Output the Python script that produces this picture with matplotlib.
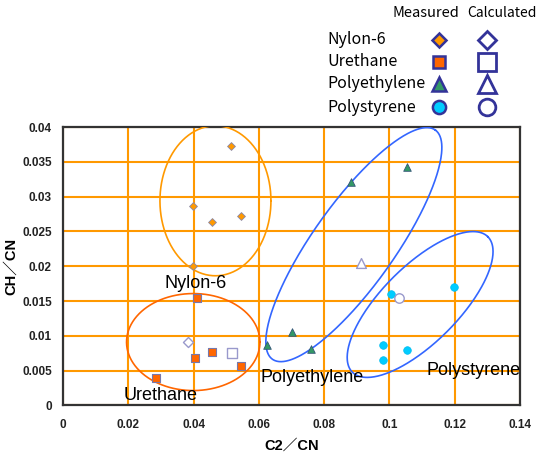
import numpy as np
import matplotlib
matplotlib.use("Agg")
import matplotlib.pyplot as plt
from matplotlib.lines import Line2D

# ---- data ----
nylon_x = [0.0514, 0.0399, 0.0455, 0.0545, 0.0399]
nylon_y = [0.0373, 0.0287, 0.0264, 0.0272, 0.0201]
ureth_x = [0.0410, 0.0403, 0.0455, 0.0546, 0.0284]
ureth_y = [0.0154, 0.0068, 0.0077, 0.0057, 0.0040]
pe_x = [0.1053, 0.0882, 0.0703, 0.0626, 0.0761]
pe_y = [0.0343, 0.0321, 0.0105, 0.0087, 0.0081]
ps_x = [0.1004, 0.1198, 0.0981, 0.0981, 0.1053]
ps_y = [0.0160, 0.0170, 0.0087, 0.0065, 0.0079]
calc_nylon = (0.0382, 0.0091)
calc_ureth = (0.0517, 0.0075)
calc_pe = (0.0912, 0.0204)
calc_ps = (0.1028, 0.0154)

# ellipses: center (data), semi-axes in pixels, rotation in degrees
ellipses = [
    ((0.0467, 0.0294), 55.5, 75.0, 0.0, "#FF9900"),
    ((0.0399, 0.0091), 66.7, 48.5, 0.0, "#FF6600"),
    ((0.0891, 0.0231), 140.6, 40.9, 54.6, "#3366FF"),
    ((0.1094, 0.0145), 95.8, 38.2, 45.0, "#3366FF"),
]

xticks = [0, 0.02, 0.04, 0.06, 0.08, 0.1, 0.12, 0.14]
yticks = [0, 0.005, 0.01, 0.015, 0.02, 0.025, 0.03, 0.035, 0.04]

fam = ["Liberation Sans", "Noto Sans CJK JP", "DejaVu Sans"]
plt.rcParams["font.family"] = fam

fig = plt.figure(figsize=(5.4, 4.54), dpi=100)
ax = fig.add_axes([63/540, 1-405.4/454, (520-63)/540, (405.4-127)/454])
ax.set_xlim(0, 0.14)
ax.set_ylim(0, 0.04)
ax.set_xticks(xticks)
ax.set_yticks(yticks)
ax.set_xticklabels([f"{v:g}" for v in xticks], fontsize=8.5, fontweight="bold", color="#222222")
ax.set_yticklabels([f"{v:g}" for v in yticks], fontsize=8.5, fontweight="bold", color="#222222")
ax.tick_params(axis="x", length=0, pad=10)
ax.tick_params(axis="y", length=0, pad=8)
ax.grid(True, color="#FF9900", linewidth=1.5)
ax.set_axisbelow(True)
for s in ax.spines.values():
    s.set_color("#333333")
    s.set_linewidth(1.6)
ax.set_xlabel("C2／CN", fontsize=10.5, fontweight="bold", labelpad=5)
ax.set_ylabel("CH／CN", fontsize=10.5, fontweight="bold", labelpad=3)

# ellipses
t = np.linspace(0, 2*np.pi, 400)
for (c, a, b, ang, col) in ellipses:
    cx, cy = ax.transData.transform(c)
    th = np.deg2rad(ang)
    ex = a*np.cos(t)
    ey = b*np.sin(t)
    dx = cx + ex*np.cos(th) - ey*np.sin(th)
    dy = cy + ex*np.sin(th) + ey*np.cos(th)
    pts = ax.transData.inverted().transform(np.column_stack([dx, dy]))
    ax.plot(pts[:, 0], pts[:, 1], color=col, linewidth=1.2, zorder=3)

# measured points
ax.scatter(nylon_x, nylon_y, marker="D", s=16, c="#FF9900", edgecolors="#8888AA", linewidths=0.6, zorder=5)
ax.scatter(ureth_x, ureth_y, marker="s", s=36, c="#FF6600", edgecolors="#7777AA", linewidths=0.8, zorder=5)
ax.scatter(pe_x, pe_y, marker="^", s=30, c="#339966", edgecolors="#335577", linewidths=0.6, zorder=5)
ax.scatter(ps_x, ps_y, marker="o", s=30, c="#00CCFF", edgecolors="#00BBEE", linewidths=0.5, zorder=5)
# calculated points
calc_col = "#9999CC"
ax.scatter([calc_nylon[0]], [calc_nylon[1]], marker="D", s=26, facecolors="white", edgecolors=calc_col, linewidths=1.0, zorder=5)
ax.scatter([calc_ureth[0]], [calc_ureth[1]], marker="s", s=52, facecolors="white", edgecolors=calc_col, linewidths=1.0, zorder=5)
ax.scatter([calc_pe[0]], [calc_pe[1]], marker="^", s=50, facecolors="white", edgecolors=calc_col, linewidths=1.0, zorder=5)
ax.scatter([calc_ps[0]], [calc_ps[1]], marker="o", s=46, facecolors="white", edgecolors=calc_col, linewidths=1.0, zorder=5)

# group labels
ax.text(0.0405, 0.0175, "Nylon-6", fontsize=13, ha="center", va="center", zorder=6)
ax.text(0.0298, 0.00145, "Urethane", fontsize=13, ha="center", va="center", zorder=6)
ax.text(0.0763, 0.00405, "Polyethylene", fontsize=13, ha="center", va="center", zorder=6)
ax.text(0.1258, 0.00495, "Polystyrene", fontsize=13, ha="center", va="center", zorder=6)

# legend (manual)
lfam = ["Noto Sans CJK JP", "DejaVu Sans"]
def fx(px): return px/540
def fy(py): return 1 - py/454
fig.text(fx(426), fy(13), "Measured", fontsize=10.5, ha="center", va="center", family=lfam)
fig.text(fx(502), fy(13), "Calculated", fontsize=10, ha="center", va="center", family=lfam)
names = ["Nylon-6", "Urethane", "Polyethylene", "Polystyrene"]
rows = [40, 62, 84, 107]
meas = [("D", "#FF9900", 7.5), ("s", "#FF6600", 9), ("^", "#339966", 9.5), ("o", "#00CCFF", 9.5)]
calc = [("D", 9.5), ("s", 13), ("^", 12.5), ("o", 12)]
navy = "#333399"
for name, ry, (mk, fc, ms), (cm, cms) in zip(names, rows, meas, calc):
    fig.text(fx(327), fy(ry), name, fontsize=11.5, ha="left", va="center", family=lfam)
    fig.add_artist(Line2D([fx(439)], [fy(ry)], marker=mk, markersize=ms, markerfacecolor=fc,
                          markeredgecolor=navy, markeredgewidth=1.8, linestyle="none",
                          transform=fig.transFigure))
    fig.add_artist(Line2D([fx(487)], [fy(ry)], marker=cm, markersize=cms, markerfacecolor="white",
                          markeredgecolor=navy, markeredgewidth=2.0, linestyle="none",
                          transform=fig.transFigure))

fig.savefig("out.png", dpi=100)
